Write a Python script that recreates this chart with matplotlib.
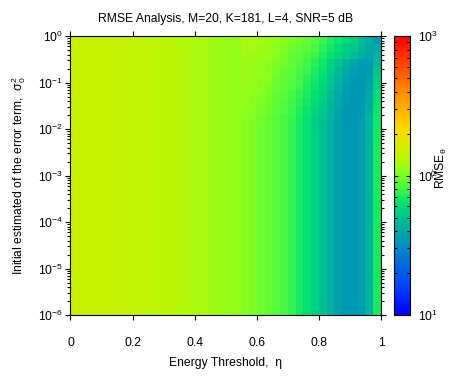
import numpy as np
import matplotlib
matplotlib.use('Agg')
import matplotlib.pyplot as plt
from matplotlib.colors import LogNorm, LinearSegmentedColormap
from matplotlib.ticker import LogLocator, FixedLocator

plt.rcParams['font.family'] = ['Liberation Sans', 'DejaVu Sans']
plt.rcParams['mathtext.default'] = 'regular'
plt.rcParams['font.size'] = 8.7

# energy threshold grid (40 cells) and sigma0^2 grid (36 cells, 1/6 decade)
eta_edges = np.linspace(0, 1, 41)
sigma_edges = np.logspace(-6, 0, 37)

# RMSE per eta column, for small sigma0^2 (flat in sigma)
rmse_base = [148, 148, 148, 147, 146, 146, 145, 145,
             143, 142, 140, 138, 136, 134, 131, 128,
             125, 122, 118, 115, 111, 108,
             104, 100, 96, 92, 87, 81, 76, 69, 63, 56,
             49, 43, 38, 35, 34, 36, 44, 69]

# top rows (sigma0^2 close to 1), columns eta >= 0.55, top row first
first_col = 22
rmse_top = [
    [126, 123, 120, 115, 110, 105, 100, 96, 91, 85, 79, 72, 66, 60, 55, 48, 42, 35],
    [123, 120, 117, 112, 107, 101, 96, 92, 87, 81, 74, 68, 62, 56, 52, 46, 40, 40],
    [120, 117, 114, 109, 104, 98, 93, 88, 83, 77, 71, 64, 58, 53, 48, 42, 39, 45],
    [118, 114, 111, 106, 101, 95, 90, 85, 80, 73, 67, 58, 51, 44, 39, 36, 36, 46],
    [116, 112, 109, 104, 99, 93, 88, 82, 77, 70, 64, 55, 47, 41, 37, 35, 36, 50],
    [114, 110, 106, 102, 96, 91, 86, 80, 74, 68, 61, 52, 45, 39, 35, 34, 37, 54],
    [112, 108, 104, 100, 94, 89, 84, 78, 72, 65, 58, 50, 43, 37, 34, 34, 38, 57],
    [110, 106, 102, 98, 92, 87, 82, 75, 70, 63, 56, 48, 41, 36, 34, 35, 40, 60],
    [108, 104, 100, 96, 91, 85, 80, 74, 68, 61, 54, 46, 40, 36, 34, 35, 41, 63],
    [107, 103, 99, 94, 89, 84, 79, 72, 66, 59, 52, 45, 39, 35, 34, 35, 42, 65],
    [105, 101, 97, 93, 88, 82, 77, 71, 64, 57, 50, 44, 38, 35, 34, 36, 43, 67],
    [104, 100, 96, 92, 87, 81, 76, 69, 63, 56, 49, 43, 38, 35, 34, 36, 44, 68],
]

Z = np.tile(np.array(rmse_base, dtype=float), (len(sigma_edges) - 1, 1))
top = np.array(rmse_top, dtype=float)[::-1]
Z[-top.shape[0]:, first_col:] = top

cmap = LinearSegmentedColormap.from_list('rmse', [
    (0.00, (0.0, 0.0, 1.0)),
    (0.12, (0.0, 0.3, 0.95)),
    (0.25, (0.0, 0.56, 0.75)),
    (0.33, (0.0, 0.72, 0.6)),
    (0.40, (0.0, 0.88, 0.45)),
    (0.46, (0.3, 0.98, 0.25)),
    (0.52, (0.58, 1.0, 0.1)),
    (0.585, (0.78, 0.95, 0.0)),
    (0.67, (1.0, 0.85, 0.0)),
    (0.80, (1.0, 0.55, 0.0)),
    (1.00, (1.0, 0.0, 0.0)),
])

fig = plt.figure(figsize=(4.68, 3.76), dpi=100)
ax = fig.add_axes([0.1506, 0.1622, 0.6635, 0.742])
cax = fig.add_axes([0.8419, 0.1622, 0.0342, 0.742])

mesh = ax.pcolormesh(eta_edges, sigma_edges, Z, cmap=cmap,
                     norm=LogNorm(vmin=10, vmax=1000), shading='flat')
ax.set_yscale('log')
ax.set_xlim(0, 1)
ax.set_ylim(1e-6, 1)
ax.set_xticks([0, 0.2, 0.4, 0.6, 0.8, 1])
ax.set_xticklabels(['0', '0.2', '0.4', '0.6', '0.8', '1'])
ax.yaxis.set_major_locator(LogLocator(base=10, numticks=10))
ax.yaxis.set_minor_locator(LogLocator(base=10, subs=np.arange(2, 10), numticks=10))
ax.tick_params(which='both', direction='out', top=True, right=True,
               labelsize=8.7, width=0.8)
ax.tick_params(which='major', length=3.6, pad=2)
ax.tick_params(which='minor', length=2.2)
ax.xaxis.set_tick_params(which='major', pad=12)
ax.set_xlabel('Energy Threshold,  η', fontsize=8.7, labelpad=6)
ax.set_ylabel(r'Initial estimated of the error term,  $\sigma_0^2$', fontsize=8.7, labelpad=7)
ax.set_title('RMSE Analysis, M=20, K=181, L=4, SNR=5 dB', fontsize=8.7, pad=10)

cb = fig.colorbar(mesh, cax=cax)
cb.set_ticks([10, 100, 1000])
cax.yaxis.set_minor_locator(FixedLocator([v * d for d in (10, 100) for v in range(2, 10)]))
cax.tick_params(which='both', direction='in', left=True, right=True, width=0.8)
cax.tick_params(which='major', length=3, labelsize=8.7, pad=6)
cax.tick_params(which='minor', length=2)
cb.outline.set_linewidth(0.8)
fig.text(440 / 468, 1 - 168 / 376, r'R$\widehat{M}$SE$_\theta$', rotation=90,
         ha='center', va='center', fontsize=8.7)

fig.savefig('out.png', dpi=100)
